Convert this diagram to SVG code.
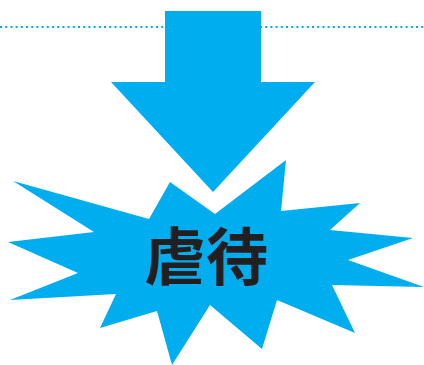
<svg xmlns="http://www.w3.org/2000/svg" width="424" height="365" viewBox="0 0 424 365">
<style>
.blue{fill:#00AEEF}
.dots{stroke:#00AEEF;stroke-width:2;stroke-dasharray:2 3.2;fill:none}
.lbl{font-family:"Noto Sans CJK JP","Noto Sans CJK SC",sans-serif;font-weight:bold;font-size:62px;fill:#231F20}
</style>
<rect width="424" height="365" fill="#fff"/>
<g id="dotted-line"><line class="dots" x1="0" y1="27" x2="424" y2="27"/></g>
<g id="connectors">
<polygon id="arrow" class="blue" points="165,11 261,11 261,82 315,82 213,192 111,82 165,82"/>
</g>
<g id="burst">
<polygon class="blue" points="170,182 215,214 286,160 281,211 360,203 330,230 413,238 348,260 424,287 332,285 355,333 277,300 262,349 210,305 172,365 157,311 100,328 116,294 10,300 78,273 8,242 94,232 13,181 149,219"/>
<text class="lbl" x="206" y="280" text-anchor="middle">虐待</text>
</g>
</svg>
